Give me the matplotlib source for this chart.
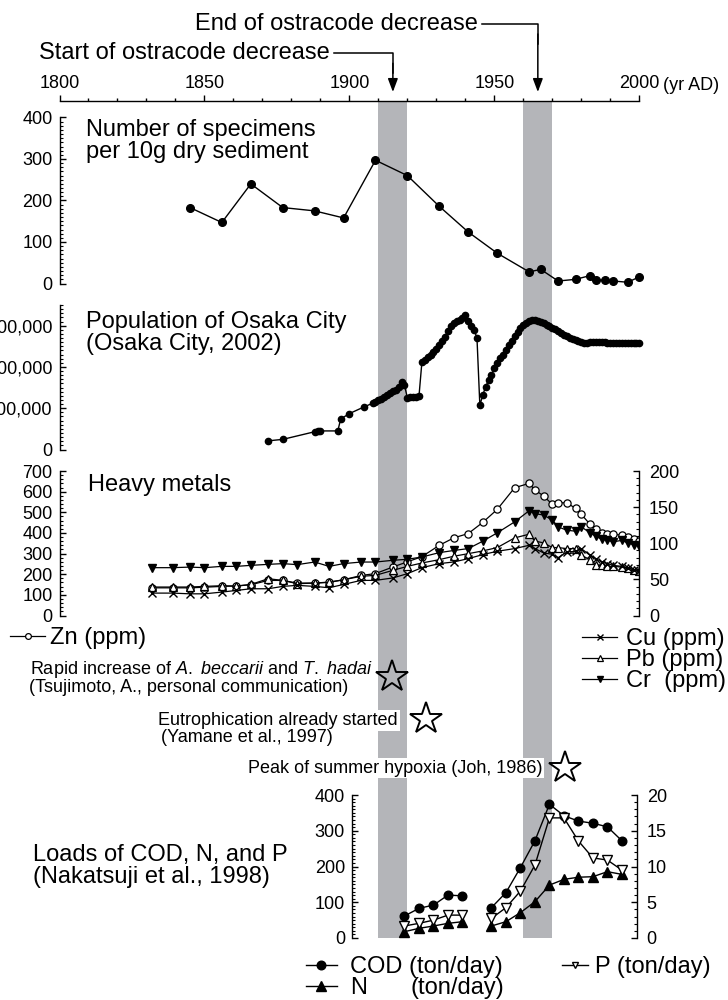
import numpy as np
import matplotlib
matplotlib.use("Agg")
import matplotlib.pyplot as plt
from matplotlib.ticker import MultipleLocator, FuncFormatter

plt.rcParams['font.family'] = ['Liberation Sans', 'DejaVu Sans']
plt.rcParams['mathtext.fontset'] = 'custom'
plt.rcParams['mathtext.rm'] = 'Liberation Sans'
plt.rcParams['mathtext.it'] = 'Liberation Sans:italic'

# ---- data ----
band_years = [(1910, 1920), (1960, 1970)]
arrow_years = [1915, 1965]

# ostracode specimens per 10 g dry sediment
spec_years = [1845, 1856, 1866, 1877, 1888, 1898, 1909, 1920, 1931, 1941, 1951,
              1962, 1966, 1972, 1978, 1983, 1985, 1988, 1991, 1996, 2000]
spec_counts = [183, 147, 240, 183, 175, 158, 297, 260, 186, 124, 73,
               28, 34, 6, 10, 19, 8, 8, 6, 3, 16]

# population of Osaka City (millions)
pop_years = [1872, 1877, 1888, 1889, 1890, 1896, 1897, 1900, 1905, 1908, 1909,
             1910, 1911, 1912, 1913, 1914, 1915, 1916, 1917, 1918, 1919, 1920,
             1921, 1922, 1923, 1924, 1925, 1926, 1927, 1928, 1929, 1930, 1931,
             1932, 1933, 1934, 1935, 1936, 1937, 1938, 1939, 1940, 1941, 1942,
             1943, 1944, 1945, 1946, 1947, 1948, 1949, 1950, 1951, 1952, 1953,
             1954, 1955, 1956, 1957, 1958, 1959, 1960, 1961, 1962, 1963, 1964,
             1965, 1966, 1967, 1968, 1969, 1970, 1971, 1972, 1973, 1974, 1975,
             1976, 1977, 1978, 1979, 1980, 1981, 1982, 1983, 1984, 1985, 1986,
             1987, 1988, 1989, 1990, 1991, 1992, 1993, 1994, 1995, 1996, 1997,
             1998, 1999, 2000]
pop_values = [0.21, 0.245, 0.43, 0.44, 0.45, 0.45, 0.74, 0.87, 1.03, 1.12, 1.16,
              1.19, 1.23, 1.28, 1.33, 1.37, 1.41, 1.45, 1.52, 1.64, 1.56, 1.25,
              1.26, 1.27, 1.28, 1.29, 2.11, 2.16, 2.23, 2.30, 2.37, 2.43, 2.52,
              2.62, 2.72, 2.86, 3.00, 3.06, 3.11, 3.14, 3.19, 3.25, 3.12, 3.00,
              2.89, 2.71, 1.07, 1.32, 1.52, 1.68, 1.80, 1.98, 2.10, 2.22, 2.30,
              2.42, 2.53, 2.64, 2.75, 2.85, 2.95, 3.02, 3.07, 3.11, 3.13, 3.14,
              3.12, 3.10, 3.07, 3.02, 2.98, 2.95, 2.91, 2.86, 2.82, 2.78, 2.74,
              2.71, 2.68, 2.65, 2.62, 2.60, 2.59, 2.59, 2.60, 2.60, 2.60, 2.60,
              2.60, 2.60, 2.59, 2.59, 2.58, 2.58, 2.57, 2.57, 2.57, 2.57, 2.57,
              2.57, 2.57, 2.57]

# heavy metals (ppm); Zn on left axis, Cu/Pb/Cr on right axis
metal_years = [1832, 1839, 1845, 1850, 1856, 1861, 1866, 1872, 1877, 1882, 1888,
               1893, 1898, 1904, 1909, 1915, 1920, 1925, 1931, 1936, 1941, 1946,
               1951, 1957, 1962, 1964, 1967, 1970, 1972, 1975, 1978, 1980, 1983,
               1985, 1987, 1989, 1991, 1994, 1996, 1998, 2000]
zn = [134, 134, 134, 137, 141, 143, 149, 170, 170, 157, 157,
      162, 173, 194, 203, 235, 260, 285, 340, 376, 397, 451,
      514, 619, 640, 608, 579, 538, 546, 546, 519, 490, 442,
      418, 402, 394, 394, 389, 378, 369, 360]
cu = [31, 31, 30, 30, 32.4, 34.7, 37, 37, 40.3, 41.7, 40.3,
      38.4, 43, 48.6, 48.6, 52, 57.9, 66.2, 71.8, 74.1, 78.7, 84.3,
      88.9, 92.6, 97.2, 92.6, 86.6, 84.7, 80.1, 87.9, 88.9, 92.6, 83.3,
      78.7, 74.1, 71.8, 69.4, 68, 66.2, 63.4, 61.6]
pb = [39.4, 39.4, 39.4, 40.3, 41.2, 40.7, 43, 50.9, 48.6, 44, 44.9,
      45.8, 49.5, 54.2, 55.6, 62.5, 68, 72.7, 77.3, 82, 85.6, 89.4,
      94, 107.4, 112.5, 103, 100.5, 94, 94, 92.6, 92.6, 83.3, 77.3,
      70.4, 69.4, 68, 68, 67, 65.7, 63.4, 61]
cr = [66.2, 66.2, 67, 66.2, 68, 68, 69.4, 70.8, 71.8, 70.4, 74,
      68, 71.8, 74, 74, 76.4, 77.8, 81, 87, 90, 92.6, 102.8,
      114.4, 129.6, 145, 141, 139, 132, 122.7, 118, 116.7, 122.7, 114.4,
      109.7, 105.5, 104.2, 102, 104, 100.5, 98, 96]

# loads (ton/day); COD and N on left axis, P on right axis
load_years = [1919, 1924, 1929, 1934, 1939,
              1949, 1954, 1959, 1964, 1969, 1974, 1979, 1984, 1989, 1994]
cod = [61.5, 83, 92, 120, 118, 85, 127, 197, 272, 374, 342, 327, 321, 311, 272]
n_load = [17.7, 27, 33.6, 41, 45.6, 33.6, 45.6, 71, 101.6, 148, 164, 170, 171.5, 185.5, 178]
p_load = [1.68, 2.05, 2.5, 3.2, 3.2, 2.75, 4.24, 6.57, 10.2, 16.8, 16.8, 13.57, 11.2, 10.9, 9.5]

# ---- layout helpers (pixel coordinates of the 728 x 1000 canvas) ----
W, H = 728, 1000
X0, X1 = 59.5, 639.3          # pixel x of 1800 and 2000


def px2yr(px):
    return 1800 + (px - X0) * 200 / (X1 - X0)


def yr2px(yr):
    return X0 + (yr - 1800) * (X1 - X0) / 200


def box(left, right, top, bottom):
    return [left / W, 1 - bottom / H, (right - left) / W, (bottom - top) / H]


BAND = '#b4b5b9'
TICK_FS = 13
BIG_FS = 17
NOTE_FS = 13

fig = plt.figure(figsize=(7.28, 10), dpi=100)

# grey bands behind every panel
bg = fig.add_axes(box(X0, X1, 101.7, 938))
bg.set_xlim(1800, 2000)
bg.axis('off')
for a, b in band_years:
    bg.axvspan(a, b, color=BAND, lw=0)

# year ruler at the top
ruler = fig.add_axes(box(X0, X1, 101.2, 101.7))
ruler.set_xlim(1800, 2000)
ruler.patch.set_visible(False)
for s in ['left', 'right', 'bottom']:
    ruler.spines[s].set_visible(False)
ruler.spines['top'].set_linewidth(1.0)
ruler.yaxis.set_visible(False)
ruler.xaxis.tick_top()
ruler.xaxis.set_major_locator(MultipleLocator(50))
ruler.xaxis.set_minor_locator(MultipleLocator(10))
ruler.tick_params(axis='x', which='major', direction='out', length=4, width=1,
                  labelsize=TICK_FS, pad=2.5)
ruler.tick_params(axis='x', which='minor', direction='out', length=2.2, width=1)


def left_axis(ax, major, minor):
    ax.patch.set_visible(False)
    for s in ['top', 'right', 'bottom']:
        ax.spines[s].set_visible(False)
    ax.spines['left'].set_linewidth(1.0)
    ax.xaxis.set_visible(False)
    ax.yaxis.set_major_locator(MultipleLocator(major))
    ax.yaxis.set_minor_locator(MultipleLocator(minor))
    ax.tick_params(axis='y', which='major', direction='in', length=4.5, width=1,
                   labelsize=TICK_FS, pad=5)
    ax.tick_params(axis='y', which='minor', direction='in', length=2.2, width=0.8)


def right_axis(ax, major, minor):
    ax.patch.set_visible(False)
    for s in ['top', 'left', 'bottom']:
        ax.spines[s].set_visible(False)
    ax.spines['right'].set_linewidth(1.0)
    ax.xaxis.set_visible(False)
    ax.yaxis.set_major_locator(MultipleLocator(major))
    ax.yaxis.set_minor_locator(MultipleLocator(minor))
    ax.tick_params(axis='y', which='major', direction='in', length=4.5, width=1,
                   labelsize=TICK_FS, pad=7)
    ax.tick_params(axis='y', which='minor', direction='in', length=2.2, width=0.8)


# panel 1: ostracodes
ax1 = fig.add_axes(box(X0, X1, 117.5, 283.5))
ax1.set_xlim(1800, 2000)
ax1.set_ylim(0, 400)
left_axis(ax1, 100, 10)
ax1.plot(spec_years, spec_counts, '-o', color='k', lw=1, ms=5.5, clip_on=False)

# panel 2: population
ax2 = fig.add_axes(box(X0, X1, 305, 449.5))
ax2.set_xlim(1800, 2000)
ax2.set_ylim(0, 3.5)
left_axis(ax2, 1, 0.1)
ax2.yaxis.set_major_formatter(FuncFormatter(lambda v, p: f"{int(round(v * 1e6)):,}"))
ax2.plot(pop_years, pop_values, '-o', color='k', lw=1, ms=4.5, clip_on=False)

# panel 3: heavy metals
ax3 = fig.add_axes(box(X0, X1, 471, 615.5))
ax3.set_xlim(1800, 2000)
ax3.set_ylim(0, 700)
left_axis(ax3, 100, 20)
ax3r = ax3.twinx()
ax3r.set_ylim(0, 200)
right_axis(ax3r, 50, 10)
zn_line, = ax3.plot(metal_years, zn, '-o', color='k', mfc='white', mew=0.9,
                    lw=0.9, ms=5.2)
cr_line, = ax3r.plot(metal_years, cr, '-v', color='k', lw=0.9, ms=6)
pb_line, = ax3r.plot(metal_years, pb, '-^', color='k', mfc='white', mew=0.9,
                     lw=0.9, ms=5.8)
cu_line, = ax3r.plot(metal_years, cu, '-x', color='k', mew=1.0, lw=0.9, ms=5.5)

# panel 4: loads of COD, N and P
L4, R4 = 352, 637
ax4 = fig.add_axes(box(L4, R4, 795, 938))
ax4.set_xlim(px2yr(L4), px2yr(R4))
ax4.set_ylim(0, 400)
left_axis(ax4, 100, 10)
ax4r = ax4.twinx()
ax4r.set_ylim(0, 20)
right_axis(ax4r, 5, 1)

ly = np.array(load_years)
segments = np.split(np.arange(len(ly)), np.where(np.diff(ly) > 6)[0] + 1)
for seg in segments:
    cod_line, = ax4.plot(ly[seg], np.array(cod)[seg], '-o', color='k', lw=1, ms=6.2)
    n_line, = ax4.plot(ly[seg], np.array(n_load)[seg], '-^', color='k', lw=1, ms=6.5)
    p_line, = ax4r.plot(ly[seg], np.array(p_load)[seg], '-v', color='k', mfc='white',
                        mew=1, lw=1, ms=6.5)

# ---- legends ----
leg_kw = dict(loc='center left', frameon=False, borderpad=0, borderaxespad=0,
              fontsize=BIG_FS, numpoints=1)
fig.legend([zn_line], ['Zn (ppm)'], bbox_to_anchor=(10 / W, 1 - 638 / H),
           handlelength=1.5, handletextpad=0.2, markerscale=0.8, **leg_kw)
fig.legend([cu_line, pb_line, cr_line], ['Cu (ppm)', 'Pb (ppm)', 'Cr  (ppm)'],
           bbox_to_anchor=(582 / W, 1 - 660 / H), handlelength=1.5,
           handletextpad=0.35, labelspacing=-0.05, markerscale=0.8, **leg_kw)
fig.legend([cod_line, n_line], ['COD (ton/day)', 'N'],
           bbox_to_anchor=(306 / W, 1 - 977.5 / H), handlelength=1.3,
           handletextpad=0.55, labelspacing=-0.05, markerscale=1.0, **leg_kw)
fig.legend([p_line], ['P (ton/day)'], bbox_to_anchor=(562 / W, 1 - 967 / H),
           handlelength=1.1, handletextpad=0.3, markerscale=0.75, **leg_kw)

# ---- overlay for labels, arrows, stars ----
ov = fig.add_axes([0, 0, 1, 1])
ov.set_xlim(0, W)
ov.set_ylim(H, 0)
ov.axis('off')
ov.patch.set_visible(False)

ov.text(663, 85, '(yr AD)', fontsize=TICK_FS, ha='left', va='center')

# start / end arrows
for label, ty, tx_end, yr in [('Start of ostracode decrease', 53.3, 330, arrow_years[0]),
                               ('End of ostracode decrease', 24, 478, arrow_years[1])]:
    ax_x = yr2px(yr)
    ov.text(tx_end, ty, label, fontsize=BIG_FS, ha='right', va='center')
    ov.plot([tx_end + 4, ax_x, ax_x], [ty, ty, ty + 20], color='k', lw=1.1)
    ov.annotate('', xy=(ax_x, 92), xytext=(ax_x, ty + 10),
                arrowprops=dict(arrowstyle='-|>,head_length=0.8,head_width=0.3',
                                color='k', lw=1.1, shrinkA=0, shrinkB=0))

# panel titles
ov.text(86, 141, 'Number of specimens\nper 10g dry sediment', fontsize=BIG_FS,
        ha='left', va='center', linespacing=1.0)
ov.text(86, 333, 'Population of Osaka City\n(Osaka City, 2002)', fontsize=BIG_FS,
        ha='left', va='center', linespacing=1.0)
ov.text(88, 485, 'Heavy metals', fontsize=BIG_FS, ha='left', va='center')
ov.text(33, 866, 'Loads of COD, N, and P\n(Nakatsuji et al., 1998)', fontsize=BIG_FS,
        ha='left', va='center', linespacing=1.0)
ov.text(411, 988.3, '(ton/day)', fontsize=BIG_FS, ha='left', va='center')

# event notes with stars
ov.text(30, 670, r'Rapid increase of $\mathit{A.\ beccarii}$ and $\mathit{T.\ hadai}$',
        fontsize=NOTE_FS, ha='left', va='center')
ov.text(29, 688, '(Tsujimoto, A., personal communication)', fontsize=NOTE_FS,
        ha='left', va='center')
ov.text(398, 720.5, 'Eutrophication already started', fontsize=NOTE_FS,
        ha='right', va='center',
        bbox=dict(facecolor='white', edgecolor='none', pad=1.2))
ov.text(161, 737.5, '(Yamane et al., 1997)', fontsize=NOTE_FS, ha='left', va='center')
ov.text(542, 768.3, 'Peak of summer hypoxia (Joh, 1986)', fontsize=NOTE_FS,
        ha='right', va='center',
        bbox=dict(facecolor='white', edgecolor='none', pad=1.2))
for sx, sy in [(392, 676.7), (426, 719), (565, 768.3)]:
    ov.plot(sx, sy, marker='*', ms=24, mfc='none', mec='k', mew=1.4)

fig.savefig('out.png', dpi=100)
